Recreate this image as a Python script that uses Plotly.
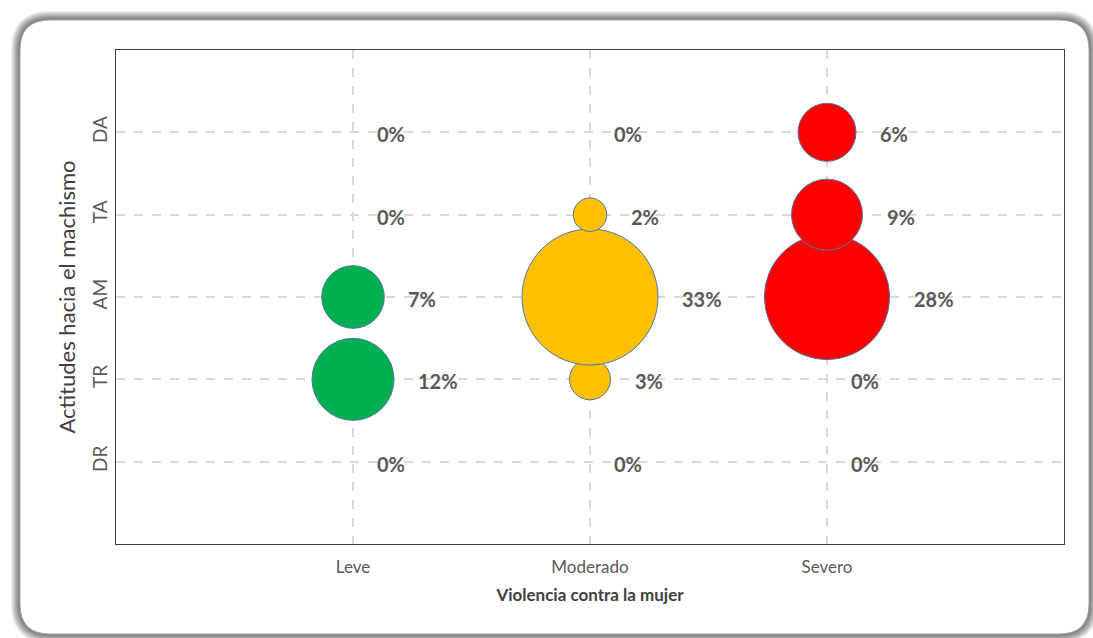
import math
import plotly.graph_objects as go

# ---- data ----
x_categories = ["Leve", "Moderado", "Severo"]
y_categories = ["DR", "TR", "AM", "TA", "DA"]
leve = [0, 12, 7, 0, 0]
moderado = [0, 3, 33, 2, 0]
severo = [0, 0, 28, 9, 6]
series = [("Leve", leve, "#00B050"), ("Moderado", moderado, "#FFC000"), ("Severo", severo, "#FF0000")]

W, H = 1093, 638
L, R, T, B = 116, 29, 50, 94
pw, ph = W - L - R, H - T - B

max_val = max(max(leve), max(moderado), max(severo))
max_diam = 136.0
sizeref = 2 * max_val / max_diam ** 2


def diam(v):
    return math.sqrt(2 * v / sizeref) if v > 0 else 0


fig = go.Figure()
annotations = []
yvals = list(range(1, len(y_categories) + 1))
for i, (name, vals, color) in enumerate(series):
    xv = [i + 1] * len(vals)
    fig.add_trace(go.Scatter(
        x=xv, y=yvals, mode="markers", name=name,
        marker=dict(size=vals, sizemode="area", sizeref=sizeref, sizemin=0,
                    color=color, opacity=1, line=dict(color="#4F76A8", width=1)),
        hoverinfo="skip", showlegend=False,
    ))
    for yy, v in zip(yvals, vals):
        annotations.append(dict(
            x=i + 1, y=yy, xref="x", yref="y", text=f"{v}%", showarrow=False,
            xanchor="left", yanchor="middle", xshift=diam(v) / 2 + 22, yshift=-2,
            font=dict(family="Lato", size=20, color="#595959", weight="bold"),
        ))


# ---- rounded frame with soft shadow (paper coords) ----
def px2x(px):
    return (px - L) / pw


def py2y(py):
    return (H - B - py) / ph


def rounded(x0, y0, x1, y1, r):
    X = px2x
    Y = py2y
    return (f"M {X(x0 + r)},{Y(y0)} L {X(x1 - r)},{Y(y0)} Q {X(x1)},{Y(y0)} {X(x1)},{Y(y0 + r)} "
            f"L {X(x1)},{Y(y1 - r)} Q {X(x1)},{Y(y1)} {X(x1 - r)},{Y(y1)} "
            f"L {X(x0 + r)},{Y(y1)} Q {X(x0)},{Y(y1)} {X(x0)},{Y(y1 - r)} "
            f"L {X(x0)},{Y(y0 + r)} Q {X(x0)},{Y(y0)} {X(x0 + r)},{Y(y0)} Z")


shapes = []
fx0, fy0, fx1, fy1 = 20, 20, 1089, 634
for k in range(9, 0, -1):
    shapes.append(dict(type="path", xref="paper", yref="paper", layer="below",
                       path=rounded(fx0 - k, fy0 - k, fx1 + k, fy1 + k, 30 + k),
                       fillcolor="rgba(0,0,0,0.07)", line=dict(width=0)))
shapes.append(dict(type="path", xref="paper", yref="paper", layer="below",
                   path=rounded(fx0, fy0, fx1, fy1, 30),
                   fillcolor="white", line=dict(color="#A6A6A6", width=1)))

fig.update_layout(
    width=W, height=H,
    margin=dict(l=L, r=R, t=T, b=B),
    paper_bgcolor="white", plot_bgcolor="rgba(0,0,0,0)",
    shapes=shapes, annotations=annotations,
    xaxis=dict(
        range=[0, 4], tickmode="array", tickvals=[1, 2, 3], ticktext=x_categories,
        showgrid=True, gridcolor="#D9D9D9", griddash="dash", gridwidth=1.5,
        zeroline=False, showline=True, linecolor="#404040", linewidth=1, mirror=True,
        ticks="", ticklabelstandoff=8,
        tickfont=dict(family="Lato", size=17, color="#595959"),
        title=dict(text="Violencia contra la mujer", standoff=12,
                   font=dict(family="Lato", size=17, color="#404040", weight="bold")),
    ),
    yaxis=dict(
        range=[0, 6], tickmode="array", tickvals=yvals, ticktext=y_categories,
        tickangle=-90,
        showgrid=True, gridcolor="#D9D9D9", griddash="dash", gridwidth=1.5,
        zeroline=False, showline=True, linecolor="#404040", linewidth=1, mirror=True,
        ticks="", tickfont=dict(family="Lato", size=19, color="#595959"),
        title=dict(text="Actitudes hacia el machismo", standoff=6,
                   font=dict(family="Lato", size=22, color="#404040")),
    ),
)

fig.write_html("out.html", config={"displayModeBar": False},
               post_script="document.body.style.margin='0';")
